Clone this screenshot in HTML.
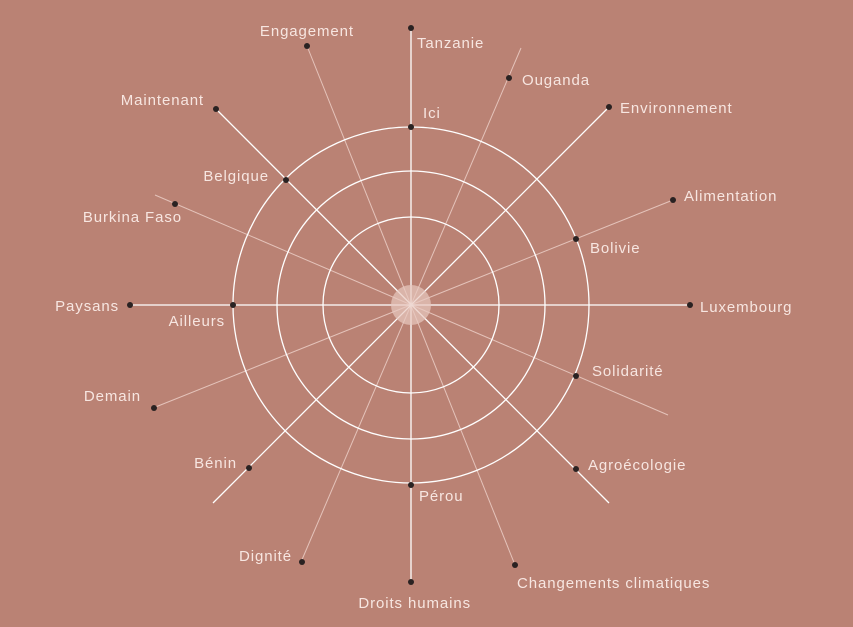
<!DOCTYPE html>
<html><head><meta charset="utf-8"><style>
html,body{margin:0;padding:0;background:#ba8274;}
svg{display:block}
text{font-family:"Liberation Sans",sans-serif;font-size:15px;letter-spacing:0.9px;fill:#f7e6e1;}
.e{text-anchor:end}
</style></head><body>
<svg width="853" height="627" viewBox="0 0 853 627">
<rect width="853" height="627" fill="#ba8274"/>
<g stroke="#f3d9d2" stroke-width="1" opacity="0.75">
<line x1="307" y1="46" x2="515" y2="565"/>
<line x1="521" y1="48" x2="301" y2="562"/>
<line x1="155" y1="195" x2="668" y2="415"/>
<line x1="673" y1="200" x2="153" y2="408"/>
</g>
<g stroke="#ffffff" stroke-width="1.3" fill="none">
<circle cx="411" cy="305" r="88"/>
<circle cx="411" cy="305" r="134"/>
<circle cx="411" cy="305" r="178"/>
<line x1="411" y1="28" x2="411" y2="582"/>
<line x1="130" y1="305" x2="690" y2="305"/>
<line x1="216" y1="109" x2="609" y2="503"/>
<line x1="609" y1="107" x2="213" y2="503"/>
</g>
<circle cx="411" cy="305" r="20" fill="#e8c9c1" opacity="0.7"/>
<g fill="#2a2222">
<circle cx="411" cy="28" r="3"/><circle cx="411" cy="127" r="3"/>
<circle cx="509" cy="78" r="3"/><circle cx="609" cy="107" r="3"/>
<circle cx="673" cy="200" r="3"/><circle cx="576" cy="239" r="3"/>
<circle cx="690" cy="305" r="3"/><circle cx="576" cy="376" r="3"/>
<circle cx="576" cy="469" r="3"/><circle cx="411" cy="485" r="3"/>
<circle cx="515" cy="565" r="3"/><circle cx="411" cy="582" r="3"/>
<circle cx="302" cy="562" r="3"/><circle cx="249" cy="468" r="3"/>
<circle cx="154" cy="408" r="3"/><circle cx="130" cy="305" r="3"/>
<circle cx="233" cy="305" r="3"/><circle cx="175" cy="204" r="3"/>
<circle cx="286" cy="180" r="3"/><circle cx="216" cy="109" r="3"/>
<circle cx="307" cy="46" r="3"/>
</g>
<text x="417" y="48">Tanzanie</text>
<text x="423" y="118">Ici</text>
<text x="522" y="85">Ouganda</text>
<text x="620" y="113">Environnement</text>
<text x="684" y="201">Alimentation</text>
<text x="590" y="253">Bolivie</text>
<text x="700" y="312">Luxembourg</text>
<text x="592" y="376">Solidarité</text>
<text x="588" y="470">Agroécologie</text>
<text x="419" y="501">Pérou</text>
<text x="517" y="588">Changements climatiques</text>
<text class="e" x="471" y="608">Droits humains</text>
<text class="e" x="292" y="561">Dignité</text>
<text class="e" x="237" y="468">Bénin</text>
<text class="e" x="141" y="401">Demain</text>
<text class="e" x="119" y="311">Paysans</text>
<text class="e" x="225" y="326">Ailleurs</text>
<text class="e" x="182" y="222">Burkina Faso</text>
<text class="e" x="269" y="181">Belgique</text>
<text class="e" x="204" y="105">Maintenant</text>
<text class="e" x="354" y="36">Engagement</text>
</svg>
</body></html>
